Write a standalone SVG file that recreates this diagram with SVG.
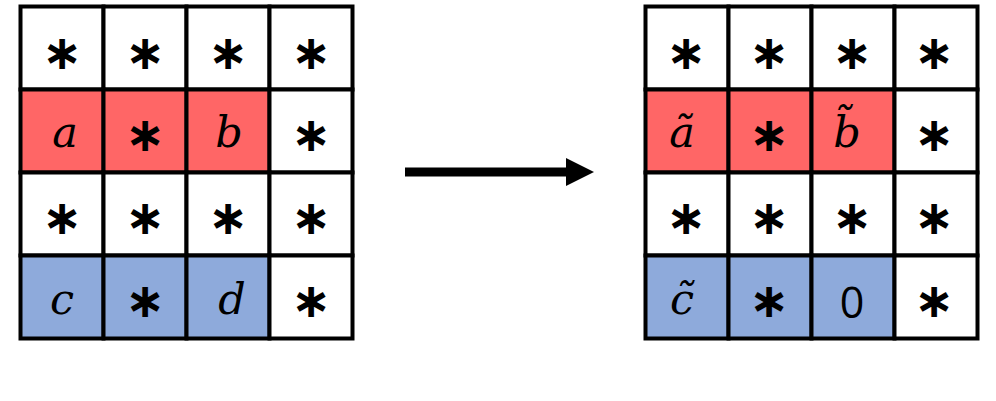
<svg xmlns="http://www.w3.org/2000/svg" width="996" height="401" viewBox="0 0 996 401">
<style>
.c{stroke:#000;stroke-width:4}
.w{fill:#fff}
.r{fill:#ff6666}
.b{fill:#8eaadb}
.s{font-family:"DejaVu Sans",sans-serif;font-weight:bold;font-size:48px;text-anchor:middle;fill:#000}
.v{font-family:"DejaVu Serif",serif;font-style:italic;font-size:43px;text-anchor:middle;fill:#000}
.n{font-family:"Open Sans","DejaVu Sans",sans-serif;font-size:43px;text-anchor:middle;fill:#000}
</style>
<rect width="996" height="401" fill="#fff"/>
<g id="left-grid">
<g id="L11"><rect class="c w" x="20.5" y="6.5" width="83" height="83"/><text class="s" x="62" y="69">∗</text></g>
<g id="L12"><rect class="c w" x="103.5" y="6.5" width="83" height="83"/><text class="s" x="145" y="69">∗</text></g>
<g id="L13"><rect class="c w" x="186.5" y="6.5" width="83" height="83"/><text class="s" x="228" y="69">∗</text></g>
<g id="L14"><rect class="c w" x="269.5" y="6.5" width="83" height="83"/><text class="s" x="311" y="69">∗</text></g>
<g id="L21"><rect class="c r" x="20.5" y="89.5" width="83" height="83"/><text class="v" x="65" y="147">a</text></g>
<g id="L22"><rect class="c r" x="103.5" y="89.5" width="83" height="83"/><text class="s" x="145" y="151">∗</text></g>
<g id="L23"><rect class="c r" x="186.5" y="89.5" width="83" height="83"/><text class="v" x="229" y="147">b</text></g>
<g id="L24"><rect class="c w" x="269.5" y="89.5" width="83" height="83"/><text class="s" x="311" y="151">∗</text></g>
<g id="L31"><rect class="c w" x="20.5" y="172.5" width="83" height="83"/><text class="s" x="62" y="234">∗</text></g>
<g id="L32"><rect class="c w" x="103.5" y="172.5" width="83" height="83"/><text class="s" x="145" y="234">∗</text></g>
<g id="L33"><rect class="c w" x="186.5" y="172.5" width="83" height="83"/><text class="s" x="228" y="234">∗</text></g>
<g id="L34"><rect class="c w" x="269.5" y="172.5" width="83" height="83"/><text class="s" x="311" y="234">∗</text></g>
<g id="L41"><rect class="c b" x="20.5" y="255.5" width="83" height="83"/><text class="v" x="62" y="314">c</text></g>
<g id="L42"><rect class="c b" x="103.5" y="255.5" width="83" height="83"/><text class="s" x="145" y="317">∗</text></g>
<g id="L43"><rect class="c b" x="186.5" y="255.5" width="83" height="83"/><text class="v" x="232" y="314">d</text></g>
<g id="L44"><rect class="c w" x="269.5" y="255.5" width="83" height="83"/><text class="s" x="311" y="317">∗</text></g>
</g>
<g id="right-grid">
<g id="R11"><rect class="c w" x="645.5" y="6.5" width="83" height="83"/><text class="s" x="686" y="69">∗</text></g>
<g id="R12"><rect class="c w" x="728.5" y="6.5" width="83" height="83"/><text class="s" x="769" y="69">∗</text></g>
<g id="R13"><rect class="c w" x="811.5" y="6.5" width="83" height="83"/><text class="s" x="852" y="69">∗</text></g>
<g id="R14"><rect class="c w" x="894.5" y="6.5" width="83" height="83"/><text class="s" x="934" y="69">∗</text></g>
<g id="R21"><rect class="c r" x="645.5" y="89.5" width="83" height="83"/><text class="v" x="682" y="147">ã</text></g>
<g id="R22"><rect class="c r" x="728.5" y="89.5" width="83" height="83"/><text class="s" x="769" y="151">∗</text></g>
<g id="R23"><rect class="c r" x="811.5" y="89.5" width="83" height="83"/><text class="v" x="847" y="147">b̃</text></g>
<g id="R24"><rect class="c w" x="894.5" y="89.5" width="83" height="83"/><text class="s" x="934" y="151">∗</text></g>
<g id="R31"><rect class="c w" x="645.5" y="172.5" width="83" height="83"/><text class="s" x="686" y="234">∗</text></g>
<g id="R32"><rect class="c w" x="728.5" y="172.5" width="83" height="83"/><text class="s" x="769" y="234">∗</text></g>
<g id="R33"><rect class="c w" x="811.5" y="172.5" width="83" height="83"/><text class="s" x="852" y="234">∗</text></g>
<g id="R34"><rect class="c w" x="894.5" y="172.5" width="83" height="83"/><text class="s" x="934" y="234">∗</text></g>
<g id="R41"><rect class="c b" x="645.5" y="255.5" width="83" height="83"/><text class="v" x="682" y="314">c̃</text></g>
<g id="R42"><rect class="c b" x="728.5" y="255.5" width="83" height="83"/><text class="s" x="769" y="317">∗</text></g>
<g id="R43"><rect class="c b" x="811.5" y="255.5" width="83" height="83"/><text class="n" x="852" y="318">0</text></g>
<g id="R44"><rect class="c w" x="894.5" y="255.5" width="83" height="83"/><text class="s" x="934" y="317">∗</text></g>
</g>
<g id="connectors">
<line x1="405" y1="172" x2="568" y2="172" stroke="#000" stroke-width="9"/>
<polygon points="566,158 594,172 566,186" fill="#000"/>
</g>
</svg>
